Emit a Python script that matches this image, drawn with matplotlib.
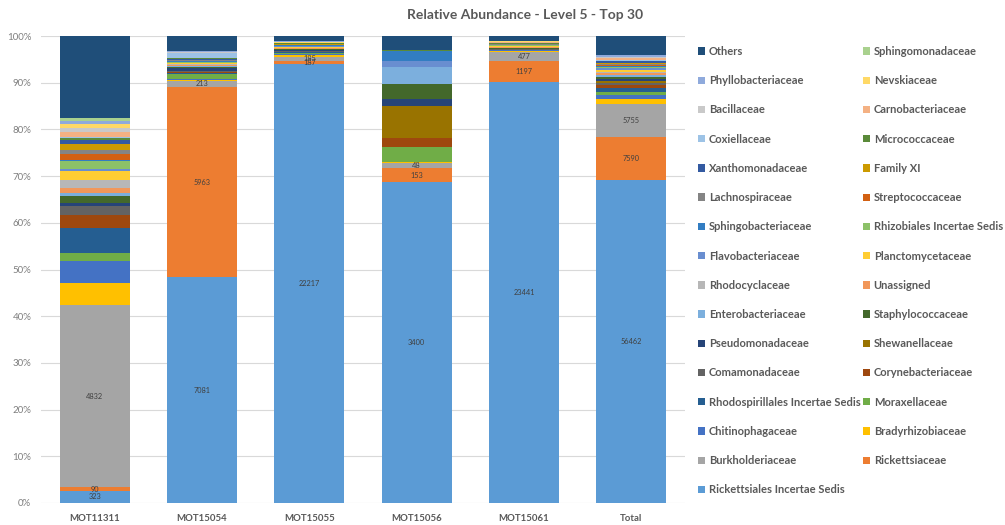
import matplotlib
matplotlib.use("Agg")
import matplotlib.pyplot as plt
import numpy as np

plt.rcParams['font.family'] = ['Lato', 'DejaVu Sans']

samples = ["MOT11311", "MOT15054", "MOT15055", "MOT15056", "MOT15061"]
categories = samples + ["Total"]

# series in stacking order (bottom -> top)
series_names = [
    "Rickettsiales Incertae Sedis", "Rickettsiaceae", "Burkholderiaceae",
    "Bradyrhizobiaceae", "Chitinophagaceae", "Moraxellaceae",
    "Rhodospirillales Incertae Sedis", "Corynebacteriaceae", "Comamonadaceae",
    "Shewanellaceae", "Pseudomonadaceae", "Staphylococcaceae",
    "Enterobacteriaceae", "Unassigned", "Rhodocyclaceae",
    "Planctomycetaceae", "Flavobacteriaceae", "Rhizobiales Incertae Sedis",
    "Sphingobacteriaceae", "Streptococcaceae", "Lachnospiraceae",
    "Family XI", "Xanthomonadaceae", "Micrococcaceae",
    "Coxiellaceae", "Carnobacteriaceae", "Bacillaceae",
    "Nevskiaceae", "Phyllobacteriaceae", "Sphingomonadaceae", "Others",
]

series_colors = [
    "#5B9BD5", "#ED7D31", "#A5A5A5", "#FFC000", "#4472C4", "#70AD47",
    "#255E91", "#9E480E", "#636363", "#997300", "#264478", "#43682B",
    "#7CAFDD", "#F1975A", "#B7B7B7", "#FFCD33", "#698ED0", "#8CC168",
    "#327DC2", "#D26012", "#848484", "#CC9A00", "#335AA1", "#5A8A39",
    "#9DC3E6", "#F4B183", "#C9C9C9", "#FFD966", "#8FAADC", "#A9D18E",
    "#1F4E79",
]

# read counts per sample: MOT11311, MOT15054, MOT15055, MOT15056, MOT15061
rickettsiales_is = [323, 7081, 22217, 3400, 23441]
rickettsiaceae   = [90, 5963, 187, 153, 1197]
burkholderiaceae = [4832, 213, 185, 48, 477]
bradyrhizobiaceae = [570, 22, 95, 20, 78]
chitinophagaceae = [583, 22, 35, 0, 26]
moraxellaceae    = [211, 161, 83, 154, 26]
rhodospirillales = [670, 29, 24, 0, 13]
corynebacteriaceae = [335, 29, 24, 92, 13]
comamonadaceae   = [260, 29, 24, 0, 13]
shewanellaceae   = [0, 22, 35, 340, 13]
pseudomonadaceae = [74, 88, 47, 80, 26]
staphylococcaceae = [174, 22, 24, 152, 13]
enterobacteriaceae = [74, 22, 24, 180, 13]
unassigned       = [136, 51, 24, 0, 39]
rhodocyclaceae   = [223, 29, 12, 0, 13]
planctomycetaceae = [236, 15, 35, 0, 39]
flavobacteriaceae = [50, 22, 47, 74, 52]
rhizobiales_is   = [211, 15, 24, 0, 13]
sphingobacteriaceae = [19, 22, 24, 96, 26]
streptococcaceae = [161, 15, 12, 0, 13]
lachnospiraceae  = [105, 29, 24, 0, 13]
family_xi        = [161, 15, 24, 0, 13]
xanthomonadaceae = [105, 29, 24, 0, 26]
micrococcaceae   = [68, 22, 12, 14, 13]
coxiellaceae     = [19, 147, 24, 0, 13]
carnobacteriaceae = [124, 15, 12, 0, 78]
bacillaceae      = [105, 15, 12, 0, 13]
nevskiaceae      = [124, 7, 12, 0, 13]
phyllobacteriaceae = [68, 29, 71, 0, 26]
sphingomonadaceae = [68, 15, 12, 0, 13]
others           = [2182, 462, 236, 150, 260]

series_values = [
    rickettsiales_is, rickettsiaceae, burkholderiaceae, bradyrhizobiaceae,
    chitinophagaceae, moraxellaceae, rhodospirillales, corynebacteriaceae,
    comamonadaceae, shewanellaceae, pseudomonadaceae, staphylococcaceae,
    enterobacteriaceae, unassigned, rhodocyclaceae, planctomycetaceae,
    flavobacteriaceae, rhizobiales_is, sphingobacteriaceae, streptococcaceae,
    lachnospiraceae, family_xi, xanthomonadaceae, micrococcaceae,
    coxiellaceae, carnobacteriaceae, bacillaceae, nevskiaceae,
    phyllobacteriaceae, sphingomonadaceae, others,
]
labelled_series = 3
title = "Relative Abundance - Level 5 - Top 30"
ytick_values = np.arange(0, 101, 10)

# build counts matrix incl. Total column (sum of samples)
counts = np.array(series_values, dtype=float)
counts = np.hstack([counts, counts.sum(axis=1, keepdims=True)])
col_tot = counts.sum(axis=0)
pct = counts / col_tot * 100

fig = plt.figure(figsize=(10.05, 5.25), dpi=100)
ax = fig.add_axes([41/1005, 22/525, 644/1005, 467/525])

x = np.arange(len(categories))
bottom = np.zeros(len(categories))
containers = []
for i, (name, col) in enumerate(zip(series_names, series_colors)):
    bc = ax.bar(x, pct[i], 0.65, bottom=bottom, color=col, label=name,
                linewidth=0, zorder=3)
    containers.append(bc)
    if i < labelled_series:
        for j in range(len(categories)):
            ax.text(x[j], bottom[j] + pct[i, j] / 2, f"{int(counts[i, j])}",
                    ha="center", va="center", fontsize=5.3, color="#404040",
                    zorder=4)
    bottom += pct[i]

ax.set_xlim(-0.5, len(categories) - 0.5)
ax.set_ylim(0, 100)
ax.set_yticks(ytick_values)
ax.set_yticklabels([f"{v}%" for v in ytick_values], fontsize=7, color="#7F7F7F")
ax.set_xticks(x)
ax.set_xticklabels(categories, fontsize=6.9, fontweight="bold", color="#595959")
ax.tick_params(axis="both", length=0)
ax.tick_params(axis="x", pad=8)
ax.tick_params(axis="y", pad=7)
for s in ax.spines.values():
    s.set_visible(False)
ax.yaxis.grid(True, color="#D9D9D9", linewidth=0.8, zorder=0)
ax.set_axisbelow(True)

fig.text(525/1005, 1 - 15/525, title, ha="center", va="center",
         fontsize=10, fontweight="bold", color="#595959")

# legend: reversed series order, filled row-wise in 2 columns
rev = list(range(len(series_names)))[::-1]
left_col = rev[0::2]
right_col = rev[1::2]
order = left_col + right_col
handles = [containers[k][0] for k in order]
labels = [series_names[k] for k in order]
leg = fig.legend(handles, labels, ncol=2, loc="upper left",
                 bbox_to_anchor=(688/1005, 1 - 36/525), frameon=False,
                 fontsize=8.0, handlelength=0.65, handleheight=0.65,
                 handletextpad=0.35, labelspacing=1.64, columnspacing=0.15)
for t in leg.get_texts():
    t.set_color("#595959")
    t.set_fontweight("bold")

fig.savefig("out.png", dpi=100)
